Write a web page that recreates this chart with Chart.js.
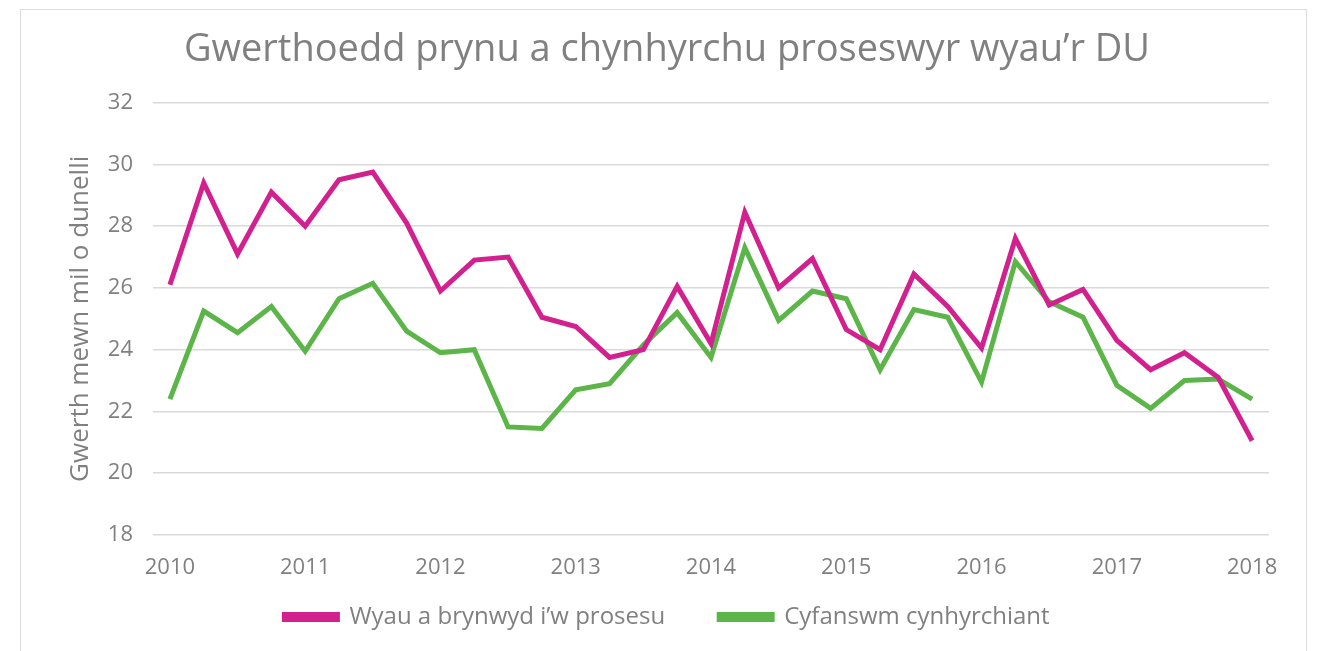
<!DOCTYPE html>
<html>
<head>
<meta charset="utf-8">
<script src="https://cdn.jsdelivr.net/npm/chart.js@4"></script>
<style>
  body { margin: 0; background: #fff; overflow: hidden; }
  #frame { position: absolute; left: 20px; top: 9px; width: 1285px; height: 700px; border: 1px solid #dcdcdc; }
  #c { position: absolute; left: 0; top: 0; }
</style>
</head>
<body>
<div id="frame"></div>
<canvas id="c" width="1319" height="671"></canvas>
<script>
// quarterly, 2010 Q1 .. 2018 Q1
var years = ['2010', '2011', '2012', '2013', '2014', '2015', '2016', '2017', '2018'];
var quarters = [];
years.forEach(function (y, i) {
  if (i < years.length - 1) {
    quarters.push(y + ' Q1', y + ' Q2', y + ' Q3', y + ' Q4');
  } else {
    quarters.push(y + ' Q1');
  }
});

var boughtForProcessing = [26.1, 29.4, 27.1, 29.1, 28.0, 29.5, 29.75, 28.1, 25.9, 26.9, 27.0, 25.05,
  24.75, 23.75, 24.0, 26.05, 24.2, 28.45, 26.0, 26.95, 24.65, 24.0, 26.45, 25.4,
  24.05, 27.6, 25.45, 25.95, 24.3, 23.35, 23.9, 23.1, 21.05];
var totalProduction = [22.4, 25.25, 24.55, 25.4, 23.95, 25.65, 26.15, 24.6, 23.9, 24.0, 21.5, 21.45,
  22.7, 22.9, 24.15, 25.2, 23.75, 27.3, 24.95, 25.9, 25.65, 23.35, 25.3, 25.05,
  22.95, 26.85, 25.55, 25.05, 22.85, 22.1, 23.0, 23.05, 22.4];

var pink = '#d2208e';
var green = '#5bb548';
var grey = '#808080';
var font = "'Open Sans', sans-serif";

// the legend needs wide gaps between items but should sit close under the axis
var legendLift = {
  id: 'legendLift',
  afterLayout: function (chart) {
    if (chart.legend) {
      chart.legend.top -= 32;
      chart.legend.bottom -= 32;
    }
  }
};

new Chart(document.getElementById('c').getContext('2d'), {
  type: 'line',
  data: {
    labels: quarters,
    datasets: [{
        label: 'Wyau a brynwyd i’w prosesu',
        data: boughtForProcessing,
        borderColor: pink,
        backgroundColor: pink,
        borderWidth: 5,
        pointRadius: 0,
        tension: 0
      },
      {
        label: 'Cyfanswm cynhyrchiant',
        data: totalProduction,
        borderColor: green,
        backgroundColor: green,
        borderWidth: 5,
        pointRadius: 0,
        tension: 0
      }
    ]
  },
  plugins: [legendLift],
  options: {
    responsive: false,
    animation: false,
    layout: { padding: { top: 20, left: 65, right: 50, bottom: 0 } },
    plugins: {
      title: {
        display: true,
        text: 'Gwerthoedd prynu a chynhyrchu proseswyr wyau’r DU',
        color: grey,
        font: { family: font, size: 38, weight: 'normal' },
        padding: { top: 7, bottom: 30 }
      },
      legend: {
        position: 'bottom',
        labels: {
          color: grey,
          font: { family: font, size: 24 },
          boxWidth: 53,
          boxHeight: 5,
          padding: 54
        }
      },
      tooltip: { enabled: false }
    },
    scales: {
      x: {
        offset: true,
        grid: { display: false, drawTicks: false },
        border: { display: false },
        afterFit: function (scale) { scale.height = 48; },
        ticks: {
          autoSkip: false,
          maxRotation: 0,
          color: grey,
          padding: 20,
          font: { family: font, size: 22 },
          callback: function (val, i) {
            var l = quarters[i];
            return l.slice(-2) === 'Q1' ? l.slice(0, 4) : '';
          }
        }
      },
      y: {
        min: 18,
        max: 32,
        border: { display: false },
        grid: { color: '#d9d9d9', lineWidth: 1.5, drawTicks: false },
        afterFit: function (scale) { scale.width = 88; },
        title: {
          display: true,
          text: 'Gwerth mewn mil o dunelli',
          color: grey,
          font: { family: font, size: 26 },
          padding: { top: 0, bottom: 10 }
        },
        ticks: {
          stepSize: 2,
          color: grey,
          padding: 20,
          font: { family: font, size: 22 }
        }
      }
    }
  }
});
</script>
</body>
</html>
